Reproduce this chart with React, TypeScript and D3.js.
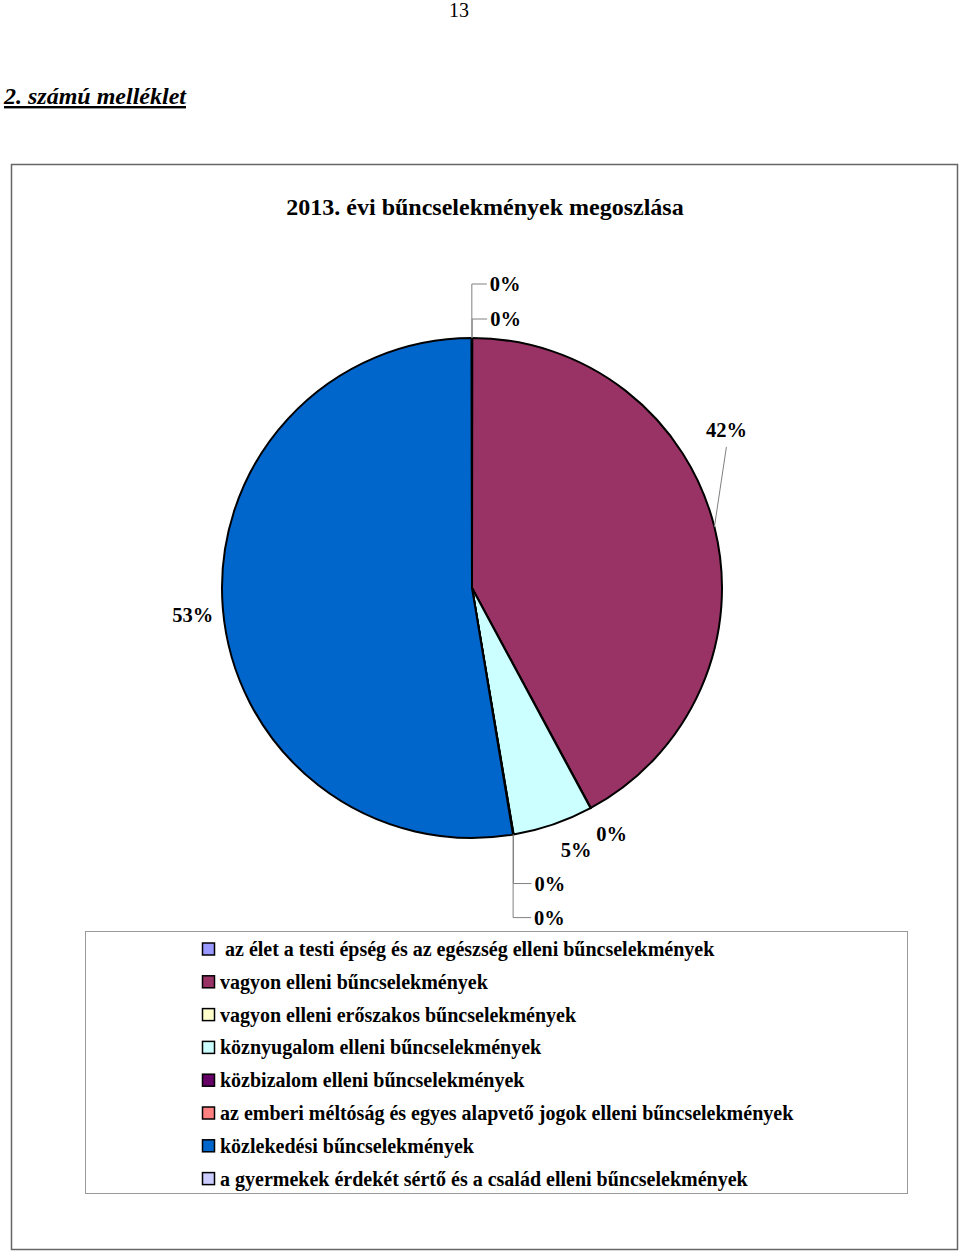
import { useMemo } from "react";
import * as d3 from "d3";

// categories in pie order (clockwise from 12 o'clock)
const categories = [
  " az élet a testi épség és az egészség elleni bűncselekmények",
  "vagyon elleni bűncselekmények",
  "vagyon elleni erőszakos bűncselekmények",
  "köznyugalom elleni bűncselekmények",
  "közbizalom elleni bűncselekmények",
  "az emberi méltóság és egyes alapvető jogok elleni bűncselekmények",
  "közlekedési bűncselekmények",
  "a gyermekek érdekét sértő és a család elleni bűncselekmények",
];
// shares in percent
const shares = [0.02, 42.1, 0.02, 5.2, 0.02, 0.02, 52.6, 0.02];
const colors = ["#9999FF", "#993366", "#FFFFCC", "#CCFFFF", "#660066", "#FF8080", "#0066CC", "#CCCCFF"];

// label placement relative to the slice's point on the rim
// kind: "free" = no leader, "line" = straight leader, "elbow" = vertical then horizontal
const labelLayout = [
  { kind: "elbow", dy: -19, dx: 18 },
  { kind: "line", dx: 12, dy: -97, lineDy: -80 },
  { kind: "free", dx: 21, dy: 26 },
  { kind: "free", dx: 23, dy: 25 },
  { kind: "elbow", dy: 49, dx: 21 },
  { kind: "elbow", dy: 83, dx: 21 },
  { kind: "free", dx: -30, dy: 6 },
  { kind: "elbow", dy: -54, dx: 18 },
];

const W = 960;
const H = 1253;
const FONT = "'Liberation Serif', 'Times New Roman', serif";

export default function App() {
  const cx = 472;
  const cy = 588;
  const r = 250;

  const arcs = useMemo(
    () => d3.pie<number>().sort(null).value((d) => d)(shares),
    []
  );
  const arcGen = d3.arc<d3.PieArcDatum<number>>().innerRadius(0).outerRadius(r);
  const rimGen = d3.arc<d3.PieArcDatum<number>>().innerRadius(r).outerRadius(r);
  const total = d3.sum(shares);

  const legendTop = 931;
  const legendStep = 32.8;

  return (
    <svg width={W} height={H} style={{ position: "absolute", left: 0, top: 0 }} fontFamily={FONT}>
      <rect width={W} height={H} fill="#fff" />
      <text x={459} y={17} textAnchor="middle" fontSize={20}>13</text>
      <text x={4} y={104} fontSize={24} fontWeight="bold" fontStyle="italic" textDecoration="underline">
        2. számú melléklet
      </text>

      <rect x={11.5} y={164.5} width={946} height={1085} fill="#fff" stroke="#666" strokeWidth={1.5} />
      <text x={485} y={207} dy="0.35em" textAnchor="middle" fontSize={24} fontWeight="bold">
        2013. évi bűncselekmények megoszlása
      </text>

      <g transform={`translate(${cx},${cy})`}>
        {arcs.map((a, i) => (
          <path key={i} d={arcGen(a) || ""} fill={colors[i]} stroke="#000" strokeWidth={2} strokeLinejoin="round" />
        ))}
        {arcs.map((a, i) => {
          const [px, py] = rimGen.centroid(a);
          const lay = labelLayout[i];
          const txt = `${Math.round((a.value / total) * 100)}%`;
          if (lay.kind === "elbow") {
            const ly = py + lay.dy;
            return (
              <g key={i}>
                <path d={`M${px},${py}V${ly}H${px + lay.dx - 3}`} fill="none" stroke="#808080" strokeWidth={1} />
                <text x={px + lay.dx} y={ly} dy="0.35em" fontSize={20.5} fontWeight="bold">{txt}</text>
              </g>
            );
          }
          if (lay.kind === "line") {
            return (
              <g key={i}>
                <line x1={px} y1={py} x2={px + lay.dx} y2={py + (lay.lineDy || 0)} stroke="#808080" strokeWidth={1} />
                <text x={px + lay.dx} y={py + lay.dy} dy="0.35em" textAnchor="middle" fontSize={20.5} fontWeight="bold">{txt}</text>
              </g>
            );
          }
          return (
            <text key={i} x={px + lay.dx} y={py + lay.dy} dy="0.35em" textAnchor="middle" fontSize={20.5} fontWeight="bold">
              {txt}
            </text>
          );
        })}
      </g>

      <rect x={85.5} y={legendTop + 0.5} width={822} height={262} fill="#fff" stroke="#999" strokeWidth={1} />
      {categories.map((c, i) => {
        const y = legendTop + 18 + i * legendStep;
        return (
          <g key={i}>
            <rect x={202.5} y={y - 6} width={12} height={12} fill={colors[i]} stroke="#000" strokeWidth={1.5} />
            <text x={220} y={y} dy="0.35em" fontSize={20} fontWeight="bold" style={{ whiteSpace: "pre" }}>
              {c}
            </text>
          </g>
        );
      })}
    </svg>
  );
}
